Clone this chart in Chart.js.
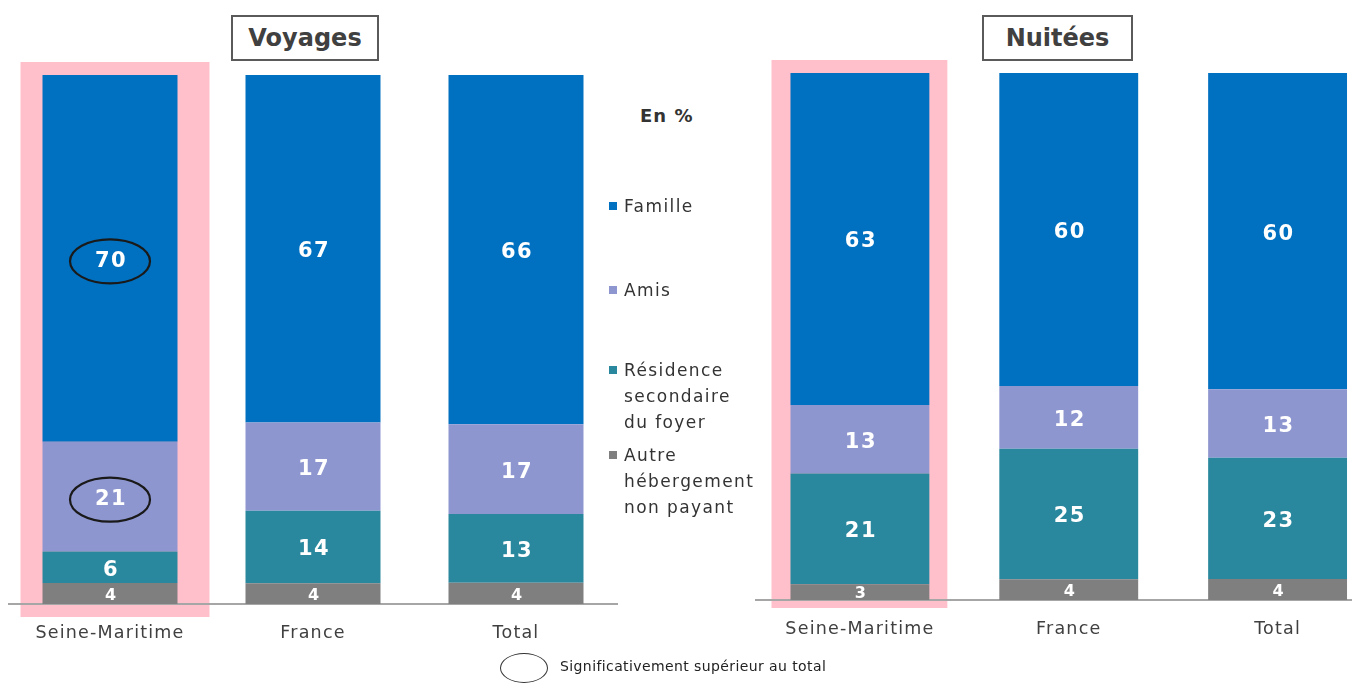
<!DOCTYPE html>
<html><head><meta charset="utf-8">
<script src="https://cdn.jsdelivr.net/npm/chart.js@4/dist/chart.umd.min.js"></script>
<style>
html,body{margin:0;padding:0;background:#fff;width:1352px;height:684px;overflow:hidden;position:relative;font-family:"DejaVu Sans",Verdana,sans-serif;}
canvas{position:absolute;top:0;}
#c1{left:0;}
#c2{left:740px;}
.tbox{position:absolute;top:15px;height:42px;border:2px solid #5a5a5a;box-sizing:content-box;color:#404040;font-weight:bold;font-size:24px;line-height:42px;text-align:center;z-index:3;background:#fff;}
#legend{position:absolute;left:606px;top:0;width:160px;z-index:4;color:#333;font-size:17px;letter-spacing:1.4px;}
.li{position:absolute;left:0;width:160px;line-height:26px;}
.li span.sq{position:absolute;left:3px;width:8px;height:8px;}
.li .tx{position:absolute;left:18px;white-space:nowrap;}
#enpct{position:absolute;left:640px;top:105px;font-weight:bold;font-size:18px;letter-spacing:1px;color:#333;z-index:4;}
#foot{position:absolute;left:500px;top:653px;z-index:4;}
#foot .el{position:absolute;left:0;top:0;width:46px;height:28px;border:1.6px solid #333;border-radius:50%;}
#foot .ft{position:absolute;left:60px;top:5px;font-size:14px;letter-spacing:0.4px;color:#222;white-space:nowrap;font-family:"DejaVu Sans",sans-serif;}
</style></head>
<body>
<canvas id="c1" width="640" height="684"></canvas>
<canvas id="c2" width="680" height="684"></canvas>
<div class="tbox" style="left:231px;width:144px;">Voyages</div>
<div class="tbox" style="left:982px;width:147px;">Nuitées</div>
<div id="enpct">En %</div>
<div id="legend"></div>
<div id="foot"><div class="el"></div><div class="ft">Significativement supérieur au total</div></div>
<script>
// ---- Data ----
const categories = ['Seine-Maritime', 'France', 'Total'];
const seriesNames = ['Famille', 'Amis', 'Résidence secondaire du foyer', 'Autre hébergement non payant'];
const seriesColors = ['#0070C0', '#8E96D0', '#2A889E', '#7F7F7F'];

// Voyages (%)
const voyFamille   = [70, 67, 66];
const voyAmis      = [21, 17, 17];
const voyResidence = [6, 14, 13];
const voyAutre     = [4, 4, 4];
// Nuitées (%)
const nuiFamille   = [63, 60, 60];
const nuiAmis      = [13, 12, 13];
const nuiResidence = [21, 25, 23];
const nuiAutre     = [3, 4, 4];
// Significativement supérieur au total
const voySigFamille = [true, false, false];
const voySigAmis    = [true, false, false];
const nuiSigFamille = [false, false, false];
const nuiSigAmis    = [false, false, false];

// ---- Legend ----
const legendLines = [['Famille'], ['Amis'], ['Résidence', 'secondaire', 'du foyer'], ['Autre', 'hébergement', 'non payant']];
const legendTops = [193, 277, 357, 442];
const lg = document.getElementById('legend');
legendLines.forEach((lines, i) => {
  const d = document.createElement('div');
  d.className = 'li';
  d.style.top = legendTops[i] + 'px';
  d.innerHTML = '<span class="sq" style="top:9px;background:' + seriesColors[i] + '"></span>' +
    '<div class="tx">' + lines.join('<br>') + '</div>';
  lg.appendChild(d);
});

// ---- Charts ----
const highlightPlugin = {
  id: 'highlight',
  beforeDraw(chart, args, opts) {
    const meta = chart.getDatasetMeta(0);
    const bar = meta.data[opts.index];
    if (!bar) return;
    const ctx = chart.ctx;
    const a = chart.chartArea;
    ctx.save();
    ctx.fillStyle = '#FFC0CB';
    const l = bar.x - bar.width / 2 - opts.padL;
    const r = bar.x + bar.width / 2 + opts.padR;
    ctx.fillRect(l, a.top - 13, r - l, a.bottom - a.top + 13 + opts.padB);
    ctx.restore();
  }
};

const labelPlugin = {
  id: 'seglabels',
  afterDatasetsDraw(chart, args, opts) {
    const ctx = chart.ctx;
    ctx.save();
    ctx.textAlign = 'center';
    ctx.textBaseline = 'middle';
    ctx.fillStyle = '#ffffff';
    chart.data.datasets.forEach((ds, di) => {
      const meta = chart.getDatasetMeta(di);
      meta.data.forEach((el, j) => {
        const cy = (el.y + el.base) / 2;
        const small = ds.isSmall;
        ctx.font = 'bold ' + (small ? 16 : 21) + 'px "DejaVu Sans", sans-serif';
        try { ctx.letterSpacing = small ? '1px' : '1.5px'; } catch (e) {}
        ctx.fillText(String(ds.raw[j]), el.x + 1, cy + (small ? 2 : 3));
        if (ds.sig && ds.sig[j]) {
          ctx.save();
          ctx.strokeStyle = '#1a1a1a';
          ctx.lineWidth = 2.2;
          ctx.beginPath();
          ctx.ellipse(el.x, cy + 3, 40, 22, 0, 0, Math.PI * 2);
          ctx.stroke();
          ctx.restore();
        }
      });
    });
    ctx.restore();
  }
};

const spacingPlugin = {
  id: 'spacing',
  beforeDraw(chart) { try { chart.ctx.letterSpacing = '1.2px'; } catch (e) {} }
};

function makeChart(id, fam, ami, res, aut, sigFam, sigAmi, pad, hl) {
  const sums = categories.map((c, j) => fam[j] + ami[j] + res[j] + aut[j]);
  const norm = arr => arr.map((v, j) => v * 100 / sums[j]);
  const series = [
    { raw: aut, color: seriesColors[3], label: seriesNames[3], small: true },
    { raw: res, color: seriesColors[2], label: seriesNames[2] },
    { raw: ami, color: seriesColors[1], label: seriesNames[1], sig: sigAmi },
    { raw: fam, color: seriesColors[0], label: seriesNames[0], sig: sigFam }
  ];
  return new Chart(document.getElementById(id), {
    type: 'bar',
    data: {
      labels: categories,
      datasets: series.map(s => ({
        label: s.label,
        data: norm(s.raw),
        raw: s.raw,
        sig: s.sig,
        isSmall: !!s.small,
        backgroundColor: s.color,
        borderWidth: 0,
        categoryPercentage: 1,
        barPercentage: 0.665
      }))
    },
    options: {
      responsive: false,
      animation: false,
      layout: { padding: pad },
      plugins: { legend: { display: false }, tooltip: { enabled: false }, highlight: hl },
      scales: {
        x: {
          stacked: true,
          grid: { display: false, drawTicks: false },
          border: { display: true, color: '#A6A6A6', width: 2 },
          ticks: { color: '#404040', font: { family: '"DejaVu Sans", sans-serif', size: 17.5 }, padding: 19, maxRotation: 0 },
          afterFit: s => { s.height = 40; }
        },
        y: { stacked: true, display: false, min: 0, max: 100 }
      }
    },
    plugins: [spacingPlugin, highlightPlugin, labelPlugin]
  });
}

makeChart('c1', voyFamille, voyAmis, voyResidence, voyAutre, voySigFamille, voySigAmis,
  { left: 8.5, right: 22.5, top: 75, bottom: 40 }, { index: 0, padL: 22, padR: 32, padB: 13 });
makeChart('c2', nuiFamille, nuiAmis, nuiResidence, nuiAutre, nuiSigFamille, nuiSigAmis,
  { left: 15.5, right: 38, top: 73, bottom: 44 }, { index: 0, padL: 19, padR: 18, padB: 8 });
</script>
</body></html>
